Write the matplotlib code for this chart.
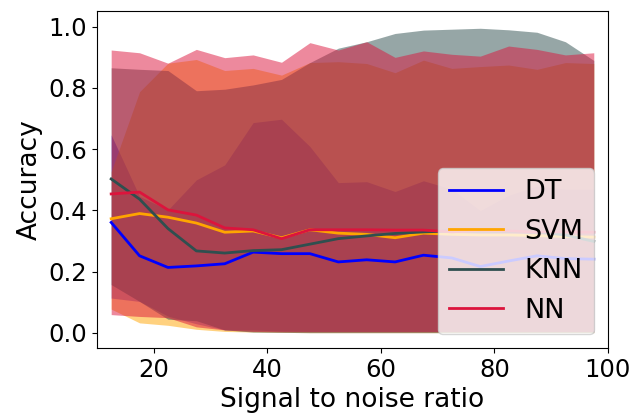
import numpy as np
import matplotlib
matplotlib.use("Agg")
import matplotlib.pyplot as plt

snr = [12.5, 17.5, 22.5, 27.5, 32.5, 37.5, 42.5, 47.5, 52.5, 57.5,
       62.5, 67.5, 72.5, 77.5, 82.5, 87.5, 92.5, 97.5]

models = ["DT", "SVM", "KNN", "NN"]
colors = ["blue", "orange", "darkslategray", "crimson"]

dt_mean = [0.361, 0.252, 0.214, 0.219, 0.226, 0.264, 0.259, 0.259, 0.232, 0.239,
           0.232, 0.254, 0.245, 0.217, 0.235, 0.252, 0.243, 0.241]
svm_mean = [0.373, 0.390, 0.378, 0.359, 0.329, 0.333, 0.311, 0.337, 0.326, 0.322,
            0.311, 0.326, 0.322, 0.320, 0.320, 0.318, 0.315, 0.313]
knn_mean = [0.503, 0.437, 0.341, 0.268, 0.261, 0.269, 0.272, 0.290, 0.308, 0.317,
            0.325, 0.330, 0.333, 0.333, 0.332, 0.330, 0.320, 0.299]
nn_mean = [0.454, 0.460, 0.402, 0.385, 0.343, 0.337, 0.308, 0.337, 0.337, 0.337,
           0.336, 0.336, 0.330, 0.335, 0.333, 0.330, 0.330, 0.329]

dt_upper = [0.647, 0.446, 0.402, 0.500, 0.549, 0.687, 0.698, 0.609, 0.491, 0.494,
            0.462, 0.497, 0.470, 0.400, 0.450, 0.480, 0.470, 0.470]
svm_upper = [0.527, 0.788, 0.881, 0.893, 0.857, 0.864, 0.842, 0.883, 0.886, 0.880,
             0.850, 0.891, 0.864, 0.870, 0.875, 0.861, 0.883, 0.880]
knn_upper = [0.866, 0.861, 0.857, 0.791, 0.796, 0.810, 0.828, 0.883, 0.930, 0.951,
             0.978, 0.989, 0.992, 0.995, 0.990, 0.982, 0.951, 0.890]
nn_upper = [0.924, 0.915, 0.881, 0.926, 0.899, 0.908, 0.884, 0.948, 0.924, 0.951,
            0.900, 0.921, 0.910, 0.904, 0.937, 0.926, 0.908, 0.915]

dt_lower = [0.114, 0.103, 0.055, 0.030, 0.010, 0.010, 0.006, 0.005, 0.005, 0.005,
            0.005, 0.005, 0.005, 0.005, 0.005, 0.005, 0.005, 0.005]
svm_lower = [0.078, 0.033, 0.025, 0.012, 0.005, 0.003, 0.002, 0.001, 0.001, 0.001,
             0.001, 0.001, 0.001, 0.001, 0.001, 0.001, 0.001, 0.001]
knn_lower = [0.158, 0.103, 0.045, 0.040, 0.010, 0.003, 0.002, 0.001, 0.001, 0.001,
             0.001, 0.001, 0.001, 0.001, 0.001, 0.001, 0.001, 0.001]
nn_lower = [0.060, 0.054, 0.050, 0.020, 0.010, 0.005, 0.004, 0.004, 0.004, 0.004,
            0.004, 0.004, 0.004, 0.004, 0.004, 0.004, 0.004, 0.004]

means = [dt_mean, svm_mean, knn_mean, nn_mean]
uppers = [dt_upper, svm_upper, knn_upper, nn_upper]
lowers = [dt_lower, svm_lower, knn_lower, nn_lower]

plt.rcParams['font.family'] = ['DejaVu Sans']
fig = plt.figure(figsize=(6.31, 4.16), dpi=100)
ax = fig.add_axes([0.1537, 0.1635, 0.8098, 0.8105])

for m, c, lo, hi in zip(models, colors, lowers, uppers):
    ax.fill_between(snr, lo, hi, color=c, alpha=0.5, linewidth=0)
for m, c, mu in zip(models, colors, means):
    ax.plot(snr, mu, color=c, lw=2, label=m, zorder=3)

ax.set_xlim(10, 100)
ax.set_ylim(-0.049, 1.052)
ax.set_xticks([20, 40, 60, 80, 100])
ax.set_yticks([0.0, 0.2, 0.4, 0.6, 0.8, 1.0])
ax.tick_params(labelsize=17.5)
ax.set_xlabel("Signal to noise ratio", fontsize=19)
ax.set_ylabel("Accuracy", fontsize=19)
ax.legend(loc="lower right", fontsize=19.5)

fig.savefig("out.png", dpi=100)
